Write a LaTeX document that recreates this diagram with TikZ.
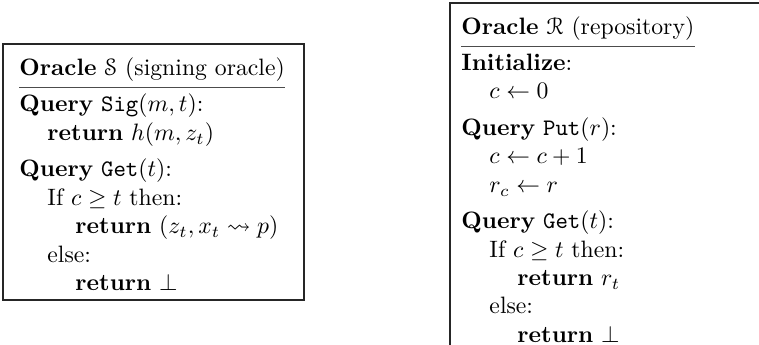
\documentclass[tikz,border=0pt]{standalone}
\usepackage{amsmath}
\usepackage{amssymb}
\usepackage[mathscr]{eucal}
\usepackage{tikz}
\usetikzlibrary{calc}
\usetikzlibrary{positioning}

\tikzset{
	oracleline/.style={anchor=base west,inner sep=0pt},
	oraclebox/.style={line width=0.45pt,black!85},
	headrule/.style={line width=0.3pt,black!70}
}

\begin{document}
\begin{tikzpicture}[x=0.4219pt,y=-0.4219pt]
	\useasboundingbox (0,0) rectangle (759,345);
	% signing oracle S
	\draw[oraclebox] (3,44) rectangle (304,300);
	\node[oracleline] (shead) at (19,76) {\textbf{Oracle} $\mathscr{S}$ (signing oracle)};
	\draw[headrule] ([yshift=-5pt]shead.base west) -- ([yshift=-5pt]shead.base east);
	\node[oracleline] (ssig) at (19,112) {\textbf{Query} \texttt{Sig}$(m,t)$:};
	\node[oracleline] (sret) at (47,140.5) {\textbf{return} $h(m,z_t)$};
	\node[oracleline] (sget) at (19,177) {\textbf{Query} \texttt{Get}$(t)$:};
	\node[oracleline] (sif) at (47,205.7) {If $c\geq t$ then:};
	\node[oracleline] (sretz) at (75,234) {\textbf{return} $(z_t,x_t\leadsto p)$};
	\node[oracleline] (selse) at (47,262.5) {else:};
	\node[oracleline] (sbot) at (75,291) {\textbf{return} $\bot$};
	% repository R
	\draw[oraclebox] (759,3) -- (450,3) -- (450,345);
	\node[oracleline] (rhead) at (461,34.7) {\textbf{Oracle} $\mathscr{R}$ (repository)};
	\draw[headrule] ([yshift=-5pt]rhead.base west) -- ([yshift=-5pt]rhead.base east);
	\node[oracleline] (rinit) at (461,70.7) {\textbf{Initialize}:};
	\node[oracleline] (rzero) at (489,99) {$c\leftarrow 0$};
	\node[oracleline] (rput) at (461,135.8) {\textbf{Query} \texttt{Put}$(r)$:};
	\node[oracleline] (rinc) at (489,164) {$c\leftarrow c+1$};
	\node[oracleline] (rstore) at (489,192.5) {$r_c\leftarrow r$};
	\node[oracleline] (rget) at (461,229) {\textbf{Query} \texttt{Get}$(t)$:};
	\node[oracleline] (rif) at (489,257.6) {If $c\geq t$ then:};
	\node[oracleline] (rret) at (517,286) {\textbf{return} $r_t$};
	\node[oracleline] (relse) at (489,314) {else:};
	\node[oracleline] (rbot) at (517,342.6) {\textbf{return} $\bot$};
\end{tikzpicture}
\end{document}
